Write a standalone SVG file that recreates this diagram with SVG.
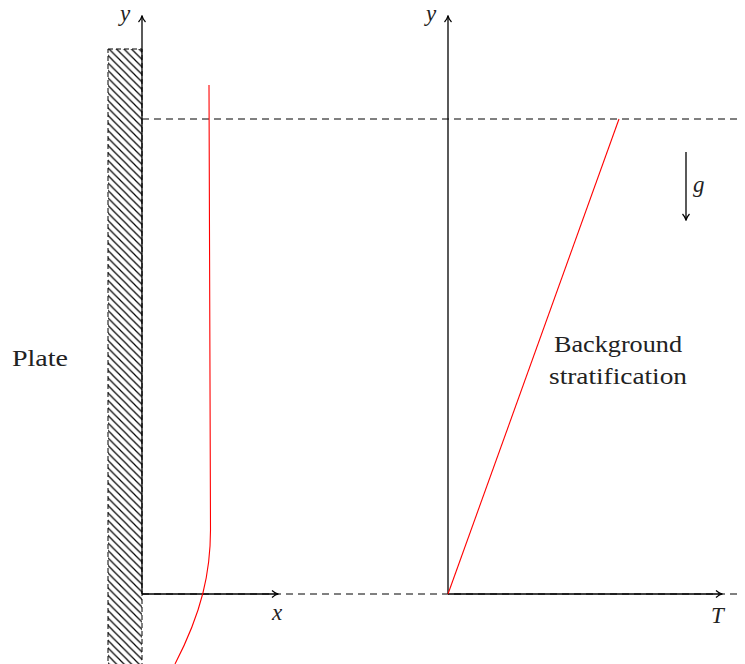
<svg xmlns="http://www.w3.org/2000/svg" width="745" height="664" viewBox="0 0 745 664">
<style>
.ax{stroke:#000;stroke-width:1.3;fill:none}
.dash{stroke:#000;stroke-width:1;stroke-dasharray:7,5;fill:none}
.red{stroke:#ff0000;stroke-width:1.1;fill:none}
.t{font-family:"Liberation Serif","DejaVu Serif",serif;font-size:23px;fill:#222}
.m{font-family:"Liberation Serif","DejaVu Serif",serif;font-size:23px;font-style:italic;fill:#222}
</style>
<defs>
<pattern id="hatch" patternUnits="userSpaceOnUse" width="7.5" height="7.5">
<path d="M-1,-1 L8.5,8.5 M-1,6.5 L1,8.5 M6.5,-1 L8.5,1" stroke="#000" stroke-width="1.2"/>
</pattern>
<marker id="arr" viewBox="0 0 10 10" refX="9" refY="5" markerWidth="10" markerHeight="10" markerUnits="userSpaceOnUse" orient="auto">
<path d="M3,1.5 Q6,4.2 9,5 Q6,5.8 3,8.5" stroke="#000" stroke-width="1.2" fill="none"/>
</marker>
</defs>
<g id="plate">
<rect x="108" y="49" width="34" height="620" fill="url(#hatch)" stroke="#000" stroke-width="1" stroke-dasharray="5,3"/>
<text class="t" x="12" y="366" textLength="56" lengthAdjust="spacingAndGlyphs">Plate</text>
</g>
<g id="connectors">
<line class="dash" x1="142" y1="119" x2="740" y2="119"/>
<line class="dash" x1="142" y1="594" x2="740" y2="594"/>
<line class="ax" x1="142" y1="594" x2="142" y2="16" marker-end="url(#arr)"/>
<line class="ax" x1="142" y1="594" x2="278" y2="594" marker-end="url(#arr)"/>
<line class="ax" x1="448" y1="594" x2="448" y2="16" marker-end="url(#arr)"/>
<line class="ax" x1="448" y1="594" x2="722" y2="594" marker-end="url(#arr)"/>
<line class="ax" x1="686" y1="152" x2="686" y2="220" marker-end="url(#arr)"/>
<path class="red" d="M209,85 L210.5,530 C210.5,572 202,612 175,664"/>
<line class="red" x1="448" y1="594" x2="619" y2="119"/>
</g>
<g id="labels">
<text class="m" x="120" y="21">y</text>
<text class="m" x="426" y="21">y</text>
<text class="m" x="272" y="620">x</text>
<text class="m" x="711" y="623">T</text>
<text class="m" x="693" y="192">g</text>
</g>
<g id="background-stratification">
<text class="t" x="554" y="352" textLength="128" lengthAdjust="spacingAndGlyphs">Background</text>
<text class="t" x="549" y="384" textLength="138" lengthAdjust="spacingAndGlyphs">stratification</text>
</g>
</svg>
